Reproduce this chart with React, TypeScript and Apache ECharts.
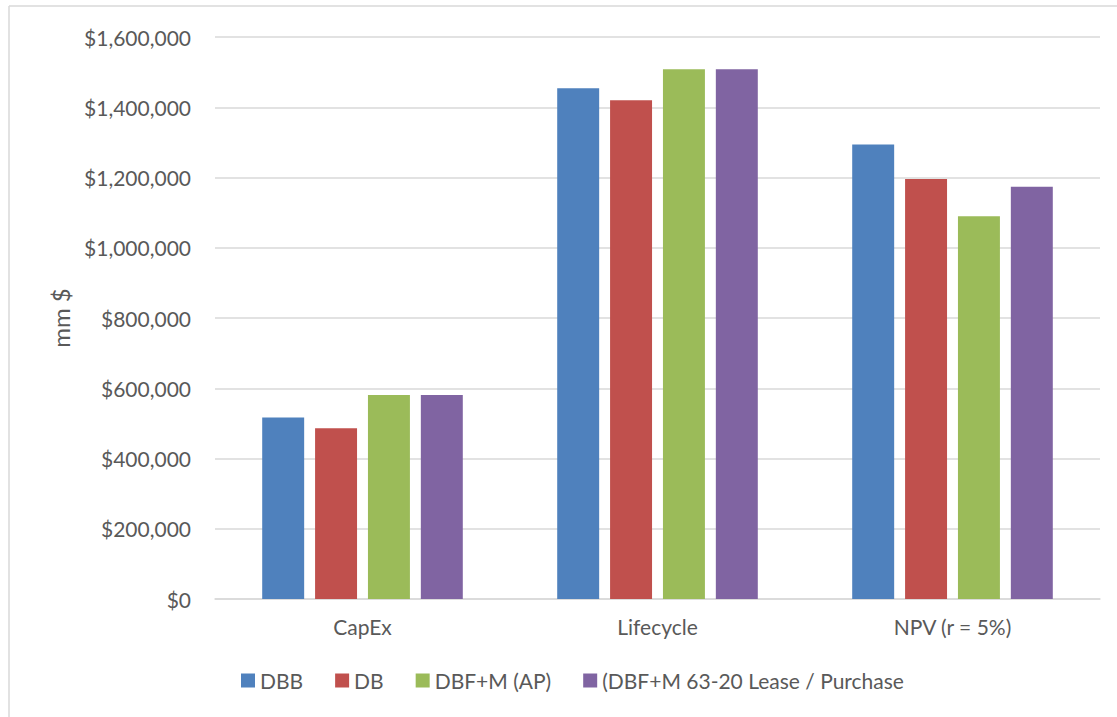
import React, { useEffect, useRef } from "react";
import * as echarts from "echarts";

const categories = ["CapEx", "Lifecycle", "NPV (r = 5%)"];
const seriesNames = ["DBB", "DB", "DBF+M (AP)", "(DBF+M 63-20 Lease / Purchase"];
const dbb = [517000, 1454000, 1294000];
const db = [486000, 1420000, 1196000];
const dbfmAp = [581000, 1508000, 1090000];
const dbfmLease = [581000, 1508000, 1174000];
const yTicks = { min: 0, max: 1600000, interval: 200000 };
const colors = ["#4F81BD", "#C0504D", "#9BBB59", "#8064A2"];

const FONT = "Lato";

export default function App() {
  const ref = useRef<HTMLDivElement>(null);
  useEffect(() => {
    document.body.style.margin = "0";
    const chart = echarts.init(ref.current!, null, { renderer: "svg" });
    const values = [dbb, db, dbfmAp, dbfmLease];
    chart.setOption({
      animation: false,
      backgroundColor: "#ffffff",
      textStyle: { fontFamily: FONT, color: "#595959" },
      grid: { left: 215, right: 17, top: 37, bottom: 118, containLabel: false },
      legend: {
        bottom: 21,
        left: 236,
        itemWidth: 14,
        itemHeight: 14,
        itemGap: 32,
        icon: "rect",
        textStyle: { fontFamily: FONT, fontSize: 21, color: "#595959" },
        data: seriesNames,
      },
      xAxis: {
        type: "category",
        data: categories,
        axisLine: { lineStyle: { color: "#D9D9D9", width: 1.5 } },
        axisTick: { show: false },
        axisLabel: { fontFamily: FONT, fontSize: 21, color: "#595959", margin: 17 },
      },
      yAxis: {
        type: "value",
        min: yTicks.min,
        max: yTicks.max,
        interval: yTicks.interval,
        name: "mm $",
        nameLocation: "middle",
        nameGap: 143,
        nameRotate: 90,
        nameTextStyle: { fontFamily: FONT, fontSize: 24, color: "#595959" },
        axisLine: { show: false },
        axisTick: { show: false },
        splitLine: { lineStyle: { color: "#D9D9D9", width: 1.5 } },
        axisLabel: {
          fontFamily: FONT,
          fontSize: 21,
          color: "#595959",
          margin: 24,
          formatter: (v: number) => "$" + v.toLocaleString("en-US"),
        },
      },
      series: seriesNames.map((name, i) => ({
        name,
        type: "bar",
        data: values[i],
        barGap: "26%",
        barCategoryGap: "32%",
        itemStyle: { color: colors[i] },
      })),
      graphic: [
        { type: "line", shape: { x1: 9, y1: 6, x2: 9, y2: 717 }, style: { stroke: "#D9D9D9", lineWidth: 1.5 } },
        { type: "line", shape: { x1: 9, y1: 6, x2: 1117, y2: 6 }, style: { stroke: "#D9D9D9", lineWidth: 1.5 } },
      ],
    });
    return () => chart.dispose();
  }, []);
  return (
    <div
      ref={ref}
      style={{ position: "fixed", left: 0, top: 0, width: 1117, height: 717 }}
    />
  );
}
